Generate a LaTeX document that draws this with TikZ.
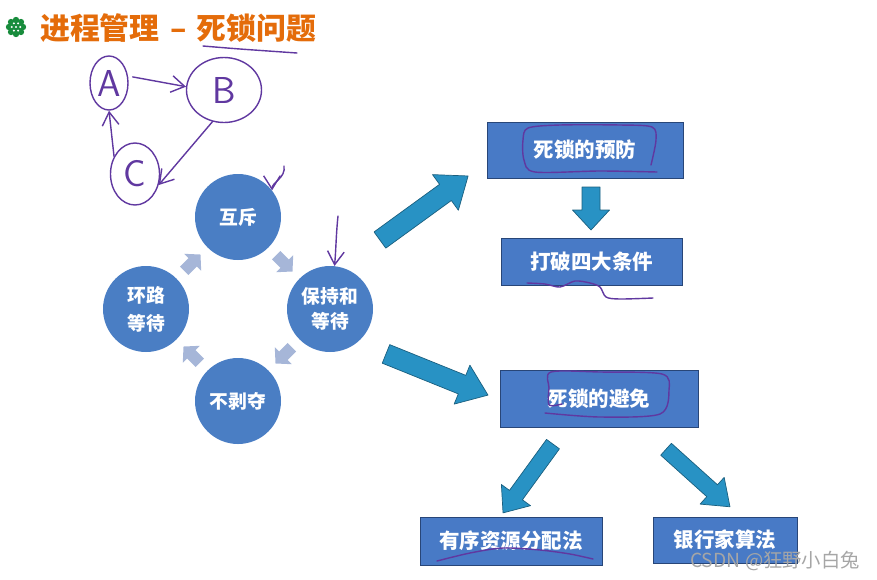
\documentclass[tikz,border=0pt]{standalone}
\usepackage{fontspec}
\newfontfamily\cjk{Noto Sans CJK SC}
\usetikzlibrary{arrows.meta,calc,shapes.geometric}
\definecolor{titleorange}{RGB}{228,108,10}
\definecolor{bulgreen}{RGB}{24,140,60}
\definecolor{circblue}{RGB}{74,126,196}
\definecolor{boxblue}{RGB}{72,122,198}
\definecolor{boxedge}{RGB}{40,70,120}
\definecolor{arrteal}{RGB}{40,146,196}
\definecolor{chevgray}{RGB}{166,182,216}
\definecolor{inkpurple}{RGB}{96,56,160}

\begin{document}
\begin{tikzpicture}[
 x=0.03cm,y=-0.03cm,
 phase/.style={circle,fill=circblue,minimum size=2.58cm,inner sep=0pt,text=white,align=center,
   font=\cjk\bfseries\fontsize{16}{21}\selectfont},
 stepbox/.style={rectangle,draw=boxedge,fill=boxblue,line width=0.8pt,text=white,inner sep=0pt,
   font=\cjk\bfseries\fontsize{17.5}{20}\selectfont},
 bigarr/.style={fill=arrteal,draw=arrteal!65!black,line width=0.6pt,line join=round},
 chev/.style={fill=chevgray},
 ink/.style={draw=inkpurple,line width=1.2pt,line cap=round,line join=round},
 inkarr/.style={ink,-{Straight Barb[length=4mm,width=5mm]}},
 hand/.style={ellipse,ink,inner sep=0pt,text=inkpurple,font=\sffamily\fontsize{32}{32}\selectfont}
]
\useasboundingbox (0,0) rectangle (877,579);

% title
\coordinate (bul) at (16,27);
\foreach \k in {0,45,...,315} \fill[bulgreen] (bul) ++(\k:7) circle (3.2);
\fill[bulgreen] (bul) circle (7.5);
\foreach \k in {0,60,...,300} \fill[white] (bul) ++(\k:4.2) circle (1.1);
\fill[white] (bul) circle (1.1);
\node[anchor=west,inner sep=0pt,text=titleorange,font=\cjk\bfseries\fontsize{25.5}{26}\selectfont] (title) at (40,28) {进程管理\hspace{3pt} – \hspace{3pt}死锁问题};
\draw[ink] plot[smooth] coordinates {(203,46) (240,49) (297,53)};

% hand notes
\node[hand,minimum width=1.14cm,minimum height=1.62cm] (A) at (109,83) {A};
\node[hand,minimum width=2.25cm,minimum height=1.95cm] (B) at (224,90) {B};
\node[hand,minimum width=1.47cm,minimum height=1.86cm] (C) at (135,174) {C};
\draw[inkarr,shorten <=4pt] (A.20) -- (B.175);
\draw[inkarr] (B.250) -- (C.-25);
\draw[inkarr] (C.140) -- (A.south);

% four conditions
\node[phase] (mutex) at (238,217) {互斥};
\node[phase] (hold) at (330,309) {保持和\\等待};
\node[phase] (nopre) at (238,401) {不剥夺};
\node[phase] (circ) at (146,309) {环路\\[3pt]等待};
\foreach \a/\b/\ang in {mutex/hold/-45,hold/nopre/-135,nopre/circ/135,circ/mutex/45}{
  \begin{scope}[shift={($(\a)!0.5!(\b)$)},rotate=\ang]
    \fill[chev] (-11,-6) -- (1,-6) -- (1,-12) -- (12,0) -- (1,12) -- (1,6) -- (-11,6) -- cycle;
  \end{scope}
}
\coordinate (m0) at (284,166);
\draw[inkarr] (m0) .. controls (286,178) and (272,182) .. (mutex.38);
\coordinate (h0) at (338,216);
\draw[inkarr] (h0) .. controls (336,235) and (336,250) .. (hold.84);

% boxes
\node[stepbox,minimum width=5.88cm,minimum height=1.68cm] (prev) at (585,150) {死锁的预防};
\node[stepbox,minimum width=5.43cm,minimum height=1.41cm] (break) at (591.5,261.5) {打破四大条件};
\node[stepbox,minimum width=5.94cm,minimum height=1.71cm] (avoid) at (599,398.5) {死锁的避免};
\node[stepbox,minimum width=5.46cm,minimum height=1.44cm] (order) at (511,541) {有序资源分配法};
\node[stepbox,minimum width=4.32cm,minimum height=1.38cm] (bank) at (725,540) {银行家算法};

% block arrows
\foreach \mx/\my/\ang/\len/\sw/\hw/\hl in {424/208/36/109/20/44/28,437/374.5/-22/110/20/42/28,
    591/208.5/-90/43/18/37/20,528/478.5/-126/85/16/36/22,698/478/-42/86/16/36/24}{
  \begin{scope}[shift={(\mx,\my)},rotate=\ang]
    \draw[bigarr] (-\len/2,-\sw/2) -- (\len/2-\hl,-\sw/2) -- (\len/2-\hl,-\hw/2) -- (\len/2,0)
      -- (\len/2-\hl,\hw/2) -- (\len/2-\hl,\sw/2) -- (-\len/2,\sw/2) -- cycle;
  \end{scope}
}

% ink marks on boxes
\draw[ink] plot[smooth] coordinates {(657,172) (600,171) (535,172) (524,160) (523,140) (528,128) (560,125) (620,125) (652,127) (656,140) (651,165)};
\draw[ink] plot[smooth] coordinates {(527,283) (545,284) (560,287) (575,281) (590,283) (600,287) (606,297) (620,299) (653,298)};
\draw[ink] plot[smooth] coordinates {(562,404) (549,405) (549,388) (551,372) (600,372) (662,374) (669,390) (660,414) (600,417) (545,413)};
\draw[ink] plot[smooth] coordinates {(437,561) (470,553) (503,548) (540,550) (570,554) (593,559)};

\node[text=gray!70,font=\cjk\fontsize{16.5}{17}\selectfont] (wm) at (775,561) {CSDN @狂野小白兔};
\end{tikzpicture}
\end{document}
